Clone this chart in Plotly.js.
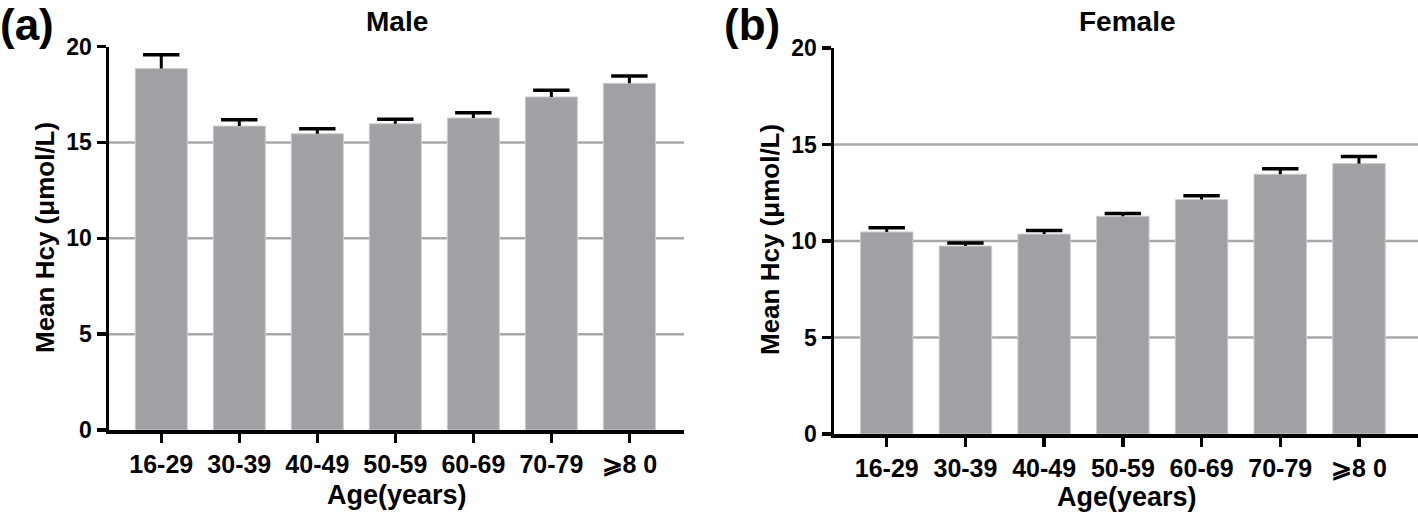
<!DOCTYPE html>
<html>
<head>
<meta charset="utf-8">
<script src="https://cdn.plot.ly/plotly-3.0.1.min.js"></script>
<style>html,body{margin:0;padding:0;background:#fff;}#chart{width:1418px;height:514px;}</style>
</head>
<body>
<div id="chart"></div>
<script>
const categories = ['16-29', '30-39', '40-49', '50-59', '60-69', '70-79', '⩾8 0'];
const maleMean = [18.85, 15.85, 15.45, 15.97, 16.27, 17.37, 18.08];
const maleErr = [0.72, 0.33, 0.26, 0.24, 0.28, 0.35, 0.38];
const femaleMean = [10.47, 9.74, 10.36, 11.28, 12.15, 13.46, 14.01];
const femaleErr = [0.22, 0.16, 0.18, 0.14, 0.19, 0.29, 0.37];
const yTicks = [0, 5, 10, 15, 20];
const gridValues = [5, 10, 15];

const FONT = 'Liberation Sans, Arial, Helvetica, sans-serif';
const barColor = 'rgb(161,160,165)';

function barTrace(vals, xa, ya) {
  return {
    type: 'bar', x: categories, y: vals, xaxis: xa, yaxis: ya,
    marker: {color: barColor, line: {color: 'rgb(205,205,208)', width: 1}},
    hoverinfo: 'none', showlegend: false
  };
}
// upper-only error bar: cap drawn as a line marker at mean+err, stem as a downward error bar without caps
function errTrace(vals, errs, xa, ya) {
  return {
    type: 'scatter', mode: 'markers', x: categories, y: vals.map((v, i) => v + errs[i]),
    xaxis: xa, yaxis: ya, cliponaxis: false,
    marker: {symbol: 'line-ew-open', size: 26, color: '#000', line: {color: '#000', width: 3.5}},
    error_y: {type: 'data', symmetric: false, array: errs.map(() => 0), arrayminus: errs,
              color: '#000', thickness: 3, width: 0},
    hoverinfo: 'none', showlegend: false
  };
}

const xCommon = {
  type: 'category', showline: true, linecolor: '#000', linewidth: 3.5,
  ticks: 'outside', ticklen: 9, tickwidth: 3.5, tickcolor: '#000',
  tickfont: {family: FONT, size: 25, color: '#000', weight: 'bold'},
  showgrid: false, zeroline: false, fixedrange: true
};
const yCommon = {
  range: [0, 20], tickvals: yTicks, ticktext: yTicks.map(String),
  showline: true, linecolor: '#000', linewidth: 3.5,
  ticks: 'outside', ticklen: 9, tickwidth: 3.5, tickcolor: '#000',
  tickfont: {family: FONT, size: 23, color: '#000', weight: 'bold'},
  showgrid: false, zeroline: false, fixedrange: true
};

const shapes = [];
[['x', 'y'], ['x2', 'y2']].forEach(([xa, ya]) => {
  gridValues.forEach(v => shapes.push({
    type: 'line', xref: xa + ' domain', x0: 0, x1: 1, yref: ya, y0: v, y1: v,
    line: {color: 'rgb(168,168,168)', width: 2.5}, layer: 'below'
  }));
});

const W = 1418, H = 514;
const annFont = (s) => ({family: FONT, size: s, color: '#000', weight: 'bold'});
const annotations = [
  {text: '(a)', x: -2 / W, y: 1 - 24 / H, xref: 'paper', yref: 'paper', xanchor: 'left', yanchor: 'middle', showarrow: false, font: annFont(44)},
  {text: '(b)', x: 722 / W, y: 1 - 24 / H, xref: 'paper', yref: 'paper', xanchor: 'left', yanchor: 'middle', showarrow: false, font: annFont(44)},
  {text: 'Male', x: 397 / W, y: 1 - 22 / H, xref: 'paper', yref: 'paper', xanchor: 'center', yanchor: 'middle', showarrow: false, font: annFont(28)},
  {text: 'Female', x: 1127 / W, y: 1 - 22 / H, xref: 'paper', yref: 'paper', xanchor: 'center', yanchor: 'middle', showarrow: false, font: annFont(28)},
  {text: 'Mean Hcy (μmol/L)', x: 45 / W, y: 1 - 238 / H, xref: 'paper', yref: 'paper', xanchor: 'center', yanchor: 'middle', textangle: -90, showarrow: false, font: annFont(26)},
  {text: 'Mean Hcy (μmol/L)', x: 770 / W, y: 1 - 240 / H, xref: 'paper', yref: 'paper', xanchor: 'center', yanchor: 'middle', textangle: -90, showarrow: false, font: annFont(26)},
  {text: 'Age(years)', x: 397 / W, y: 1 - 495 / H, xref: 'paper', yref: 'paper', xanchor: 'center', yanchor: 'middle', showarrow: false, font: annFont(27)},
  {text: 'Age(years)', x: 1127 / W, y: 1 - 497 / H, xref: 'paper', yref: 'paper', xanchor: 'center', yanchor: 'middle', showarrow: false, font: annFont(27)}
];

const layout = {
  width: W, height: H,
  margin: {l: 0, r: 0, t: 0, b: 0},
  paper_bgcolor: '#fff', plot_bgcolor: 'rgba(0,0,0,0)',
  bargap: 0.333,
  font: {family: FONT, color: '#000'},
  xaxis: Object.assign({}, xCommon, {domain: [109 / W, 684 / W], range: [-0.67, 6.7], anchor: 'y'}),
  yaxis: Object.assign({}, yCommon, {domain: [1 - 430 / H, 1 - 46.5 / H], anchor: 'x'}),
  xaxis2: Object.assign({}, xCommon, {domain: [834 / W, 1], range: [-0.67, 6.75], anchor: 'y2'}),
  yaxis2: Object.assign({}, yCommon, {domain: [1 - 434 / H, 1 - 48 / H], anchor: 'x2'}),
  shapes: shapes,
  annotations: annotations
};

Plotly.newPlot('chart', [
  barTrace(maleMean, 'x', 'y'),
  barTrace(femaleMean, 'x2', 'y2'),
  errTrace(maleMean, maleErr, 'x', 'y'),
  errTrace(femaleMean, femaleErr, 'x2', 'y2')
], layout, {staticPlot: true, displayModeBar: false});
</script>
</body>
</html>
